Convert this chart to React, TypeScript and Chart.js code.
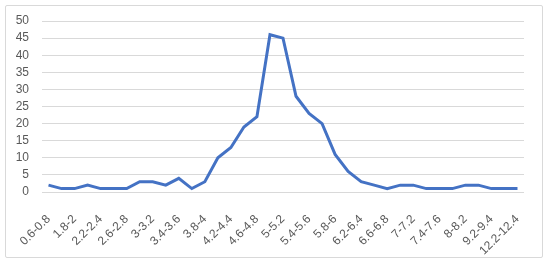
import React, { useEffect, useRef } from "react";
import { Chart, registerables } from "chart.js";

Chart.register(...registerables);

const categories: string[] = [
  "0.6-0.8", "1.6-1.8", "1.8-2", "2-2.2", "2.2-2.4", "2.4-2.6", "2.6-2.8", "2.8-3",
  "3-3.2", "3.2-3.4", "3.4-3.6", "3.6-3.8", "3.8-4", "4-4.2", "4.2-4.4", "4.4-4.6",
  "4.6-4.8", "4.8-5", "5-5.2", "5.2-5.4", "5.4-5.6", "5.6-5.8", "5.8-6", "6-6.2",
  "6.2-6.4", "6.4-6.6", "6.6-6.8", "6.8-7", "7-7.2", "7.2-7.4", "7.4-7.6", "7.6-7.8",
  "8-8.2", "8.4-8.6", "9.2-9.4", "10-10.2", "12.2-12.4",
];

const counts: number[] = [
  2, 1, 1, 2, 1, 1, 1, 3, 3, 2, 4, 1, 3, 10, 13, 19, 22, 46, 45, 28, 23, 20, 11, 6,
  3, 2, 1, 2, 2, 1, 1, 1, 2, 2, 1, 1, 1,
];

const yTicks: number[] = [0, 5, 10, 15, 20, 25, 30, 35, 40, 45, 50];

export default function App() {
  const ref = useRef<HTMLCanvasElement | null>(null);

  useEffect(() => {
    if (!ref.current) return;
    const font = { family: "'Liberation Sans', Arial, sans-serif", size: 12 };
    const chart = new Chart(ref.current, {
      type: "line",
      data: {
        labels: categories,
        datasets: [
          {
            data: counts,
            borderColor: "#4472C4",
            borderWidth: 3,
            pointRadius: 0,
            tension: 0,
            fill: false,
          },
        ],
      },
      options: {
        animation: false,
        responsive: false,
        maintainAspectRatio: false,
        layout: { padding: { left: 0, right: 26, top: 21, bottom: 0 } },
        plugins: { legend: { display: false }, tooltip: { enabled: false } },
        scales: {
          x: {
            type: "category",
            offset: true,
            grid: { display: false, drawTicks: false },
            border: { display: false },
            ticks: {
              autoSkip: false,
              maxRotation: 45,
              minRotation: 45,
              color: "#595959",
              font,
              padding: 20,
              callback: (_v: any, i: number) => (i % 2 === 0 ? categories[i] : ""),
            },
            afterFit: (s: any) => {
              s.height = 74;
            },
          },
          y: {
            min: 0,
            max: 50,
            afterBuildTicks: (s: any) => {
              s.ticks = yTicks.map((v) => ({ value: v }));
            },
            grid: { color: "#d9d9d9", lineWidth: 1, drawTicks: false },
            border: { display: false },
            ticks: { color: "#595959", font, padding: 13, autoSkip: false },
            afterFit: (s: any) => {
              s.width = 42;
            },
          },
        },
      },
    });
    return () => chart.destroy();
  }, []);

  return (
    <div style={{ position: "absolute", left: 0, top: 0, width: 550, height: 266, background: "#fff" }}>
      <div
        style={{
          position: "absolute",
          left: 5,
          top: 5,
          width: 538,
          height: 253,
          border: "1px solid #d9d9d9",
          borderRadius: 2,
          boxSizing: "border-box",
        }}
      />
      <canvas ref={ref} width={550} height={266} style={{ position: "absolute", left: 0, top: 0 }} />
    </div>
  );
}
